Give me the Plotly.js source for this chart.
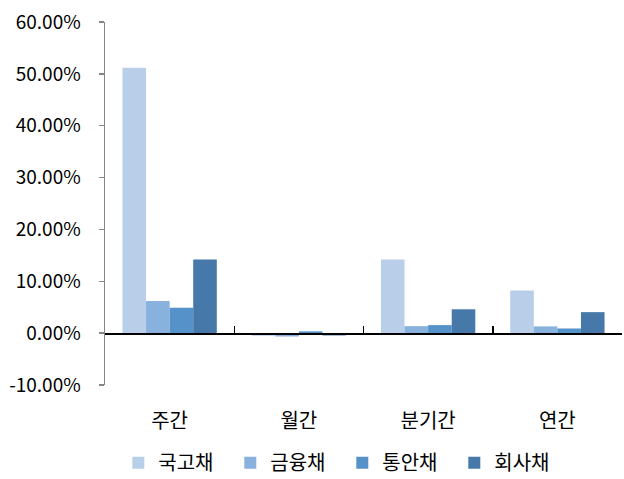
<!DOCTYPE html>
<html><head><meta charset="utf-8">
<script src="https://cdn.plot.ly/plotly-3.0.1.min.js"></script>
<style>html,body{margin:0;padding:0;background:#fff}</style>
</head><body>
<div id="chart" style="width:624px;height:479px"></div>
<script>
const categories = ['주간', '월간', '분기간', '연간'];
const seriesNames = ['국고채', '금융채', '통안채', '회사채'];
const govBond = [51.2, -0.5, 14.2, 8.2];
const finBond = [6.2, -0.65, 1.35, 1.3];
const msbBond = [4.9, 0.35, 1.55, 0.9];
const corpBond = [14.2, -0.45, 4.6, 4.05];
const yTickVals = [-10, 0, 10, 20, 30, 40, 50, 60];
const yTickText = ['-10.00%', '0.00%', '10.00%', '20.00%', '30.00%', '40.00%', '50.00%', '60.00%'];
const colors = ['#b9cee9', '#88b1dd', '#5592ca', '#4679a9'];
const values = [govBond, finBond, msbBond, corpBond];

const font = 'Noto Sans CJK KR, Noto Sans, sans-serif';
const traces = values.map((v, i) => ({
  type: 'bar', x: categories, y: v, name: seriesNames[i],
  marker: {color: colors[i], line: {width: 0}}, xaxis: 'x', yaxis: 'y'
}));
// helper axis for the zero-line with category boundary ticks
traces.push({type: 'scatter', x: [0], y: [0], xaxis: 'x2', yaxis: 'y', mode: 'markers',
  marker: {opacity: 0}, showlegend: false, hoverinfo: 'skip'});

const layout = {
  width: 624, height: 479,
  margin: {l: 105, r: 2, t: 22, b: 94, autoexpand: false},
  paper_bgcolor: '#fff', plot_bgcolor: '#fff',
  font: {family: font, size: 19, color: '#000'},
  barmode: 'group', bargap: 0.27, bargroupgap: 0,
  showlegend: true,
  legend: {orientation: 'h', x: 0.459, xanchor: 'center', y: -0.214, yanchor: 'middle',
    font: {family: font, size: 20, color: '#000'}, entrywidth: 67, entrywidthmode: 'pixels',
    itemwidth: 30, traceorder: 'normal'},
  xaxis: {type: 'category', categoryarray: categories, showgrid: false, showline: false,
    zeroline: false, ticks: 'outside', ticklen: 18, tickcolor: 'rgba(0,0,0,0)',
    tickfont: {family: font, size: 20, color: '#000'}, range: [-0.5, 3.5]},
  xaxis2: {overlaying: 'x', anchor: 'free', position: 10/70, range: [-0.5, 3.5],
    showgrid: false, zeroline: false, showline: true, linecolor: '#000', linewidth: 1.5,
    ticks: 'inside', ticklen: 7, tickcolor: '#000', tickwidth: 1.5,
    tickvals: [0.5, 1.5, 2.5], showticklabels: false},
  yaxis: {range: [-10, 60], tickvals: yTickVals, ticktext: yTickText,
    showgrid: false, zeroline: false, showline: true, linecolor: '#868686', linewidth: 1.5,
    ticks: 'outside', ticklen: 5, tickcolor: '#868686', tickwidth: 1.5,
    ticklabelstandoff: 14, tickfont: {family: font, size: 19, color: '#000'}}
};
Plotly.newPlot('chart', traces, layout, {displayModeBar: false, staticPlot: true});
</script>
</body></html>
